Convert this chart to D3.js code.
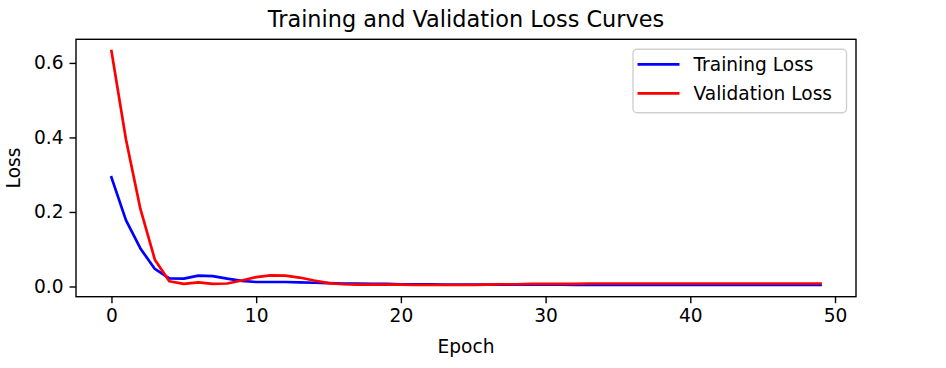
<!DOCTYPE html>
<html>
<head>
<meta charset="utf-8">
<script src="https://cdn.jsdelivr.net/npm/d3@7"></script>
<style>
  body { margin: 0; background: #fff; }
  text { font-family: "DejaVu Sans", sans-serif; fill: #000; }
</style>
</head>
<body>
<div id="chart"></div>
<script>
// loss values per epoch
const epochs = d3.range(0, 50);
const trainLoss = [
  0.293, 0.178, 0.102, 0.047, 0.022, 0.021, 0.029, 0.028, 0.021, 0.015,
  0.012, 0.012, 0.012, 0.011, 0.010, 0.009, 0.008, 0.008, 0.007, 0.007,
  0.006, 0.006, 0.006, 0.005, 0.005, 0.005, 0.005, 0.005, 0.005, 0.005,
  0.005, 0.005, 0.004, 0.004, 0.004, 0.004, 0.004, 0.004, 0.004, 0.004,
  0.004, 0.004, 0.004, 0.004, 0.004, 0.004, 0.004, 0.004, 0.004, 0.004
];
const valLoss = [
  0.632, 0.395, 0.208, 0.072, 0.014, 0.007, 0.011, 0.007, 0.008, 0.016,
  0.025, 0.030, 0.029, 0.024, 0.016, 0.009, 0.006, 0.005, 0.005, 0.005,
  0.005, 0.004, 0.004, 0.004, 0.004, 0.004, 0.005, 0.006, 0.006, 0.007,
  0.007, 0.007, 0.007, 0.008, 0.008, 0.008, 0.008, 0.008, 0.008, 0.008,
  0.008, 0.008, 0.008, 0.008, 0.008, 0.008, 0.008, 0.008, 0.008, 0.008
];
const xTicks = [0, 10, 20, 30, 40, 50];
const yTicks = [0.0, 0.2, 0.4, 0.6];
const seriesNames = ['Training Loss', 'Validation Loss'];
const seriesColors = ['blue', 'red'];

const width = 946, height = 368;
const margin = {top: 39.3, right: 90, bottom: 71.3, left: 76};
const visWidth = width - margin.left - margin.right;
const visHeight = height - margin.top - margin.bottom;

const svg = d3.select('#chart').append('svg')
    .attr('width', width)
    .attr('height', height);

const g = svg.append('g')
    .attr('transform', `translate(${margin.left}, ${margin.top})`);

// matplotlib style 5% padding around the data
const xMin = 0, xMax = 49;
const xPad = (xMax - xMin) * 0.05;
const x = d3.scaleLinear()
    .domain([xMin - xPad, xMax + xPad])
    .range([0, visWidth]);

const yMin = d3.min(trainLoss.concat(valLoss));
const yMax = d3.max(trainLoss.concat(valLoss));
const yPad = (yMax - yMin) * 0.05;
const y = d3.scaleLinear()
    .domain([yMin - yPad, yMax + yPad])
    .range([visHeight, 0]);

const xAxis = d3.axisBottom(x).tickValues(xTicks).tickSize(6.5).tickPadding(6).tickFormat(d3.format('d'));
const yAxis = d3.axisLeft(y).tickValues(yTicks).tickSize(6.5).tickPadding(6).tickFormat(d3.format('.1f'));

g.append('g')
    .attr('transform', `translate(0, ${visHeight})`)
    .call(xAxis)
    .call(a => a.select('.domain').remove())
    .call(a => a.selectAll('line').attr('stroke', '#000').attr('stroke-width', 1.4))
    .call(a => a.selectAll('text').attr('font-size', 18.6).attr('font-family', 'DejaVu Sans').attr('fill', '#000'));

g.append('g')
    .call(yAxis)
    .call(a => a.select('.domain').remove())
    .call(a => a.selectAll('line').attr('stroke', '#000').attr('stroke-width', 1.4))
    .call(a => a.selectAll('text').attr('font-size', 18.6).attr('font-family', 'DejaVu Sans').attr('fill', '#000'));

const line = d3.line()
    .x((d, i) => x(epochs[i]))
    .y(d => y(d));

[trainLoss, valLoss].forEach((series, i) => {
  g.append('path')
    .datum(series)
    .attr('d', line)
    .attr('fill', 'none')
    .attr('stroke', seriesColors[i])
    .attr('stroke-width', 2.7)
    .attr('stroke-linejoin', 'round')
    .attr('stroke-linecap', 'square');
});

// axes frame
g.append('rect')
    .attr('width', visWidth)
    .attr('height', visHeight)
    .attr('fill', 'none')
    .attr('stroke', '#000')
    .attr('stroke-width', 1.4);

// title and labels
svg.append('text')
    .attr('x', margin.left + visWidth / 2)
    .attr('y', 27.3)
    .attr('text-anchor', 'middle')
    .attr('font-size', 22.4)
    .text('Training and Validation Loss Curves');

svg.append('text')
    .attr('x', margin.left + visWidth / 2)
    .attr('y', 352.5)
    .attr('text-anchor', 'middle')
    .attr('font-size', 18.6)
    .text('Epoch');

svg.append('text')
    .attr('transform', `translate(20, ${margin.top + visHeight / 2}) rotate(-90)`)
    .attr('text-anchor', 'middle')
    .attr('font-size', 18.6)
    .text('Loss');

// legend
const legend = svg.append('g')
    .attr('transform', 'translate(633, 49.3)');

legend.append('rect')
    .attr('width', 213.5)
    .attr('height', 63.4)
    .attr('rx', 4)
    .attr('fill', 'white')
    .attr('fill-opacity', 0.8)
    .attr('stroke', '#d0d0d0')
    .attr('stroke-width', 1.4);

seriesNames.forEach((name, i) => {
  const ly = 15 + i * 29;
  legend.append('line')
    .attr('x1', 4.5).attr('x2', 46.5)
    .attr('y1', ly).attr('y2', ly)
    .attr('stroke', seriesColors[i])
    .attr('stroke-width', 2.7);
  legend.append('text')
    .attr('x', 60.5)
    .attr('y', ly)
    .attr('dy', '0.36em')
    .attr('font-size', 18.6)
    .text(name);
});
</script>
</body>
</html>
